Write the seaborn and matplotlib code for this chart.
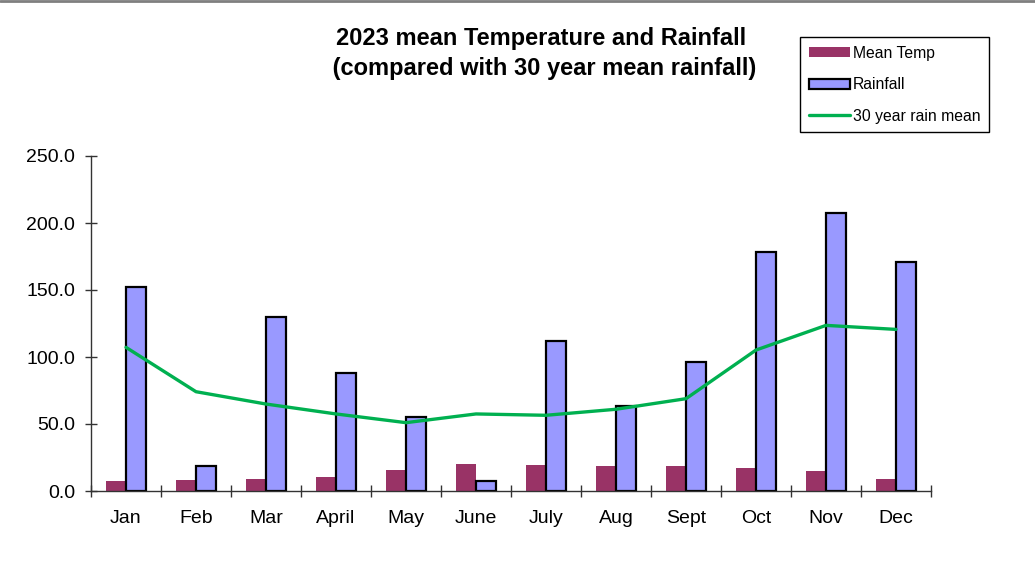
import numpy as np
import pandas as pd
import seaborn as sns
import matplotlib.pyplot as plt
from matplotlib.patches import Patch
from matplotlib.lines import Line2D

months = ["Jan", "Feb", "Mar", "April", "May", "June", "July", "Aug", "Sept", "Oct", "Nov", "Dec"]
mean_temp = [7.2, 8.0, 8.7, 10.7, 15.4, 20.1, 19.4, 18.7, 18.9, 16.9, 14.7, 9.0]
rainfall = [152.2, 18.7, 129.9, 88.0, 55.2, 7.5, 112.0, 63.4, 96.3, 178.4, 207.5, 170.9]
rain_30yr = [107.2, 74.1, 64.9, 57.5, 51.0, 57.5, 56.5, 61.0, 68.9, 105.2, 123.6, 120.6]

sns.set_theme(style="white")
plt.rcParams["font.family"] = ["Liberation Sans", "DejaVu Sans"]
plt.rcParams["text.color"] = "black"
plt.rcParams["xtick.color"] = "#333333"
plt.rcParams["ytick.color"] = "#333333"
plt.rcParams["xtick.labelcolor"] = "black"
plt.rcParams["ytick.labelcolor"] = "black"

temp_col = "#993366"
rain_col = "#9999FF"
line_col = "#00B050"

df = pd.DataFrame({
    "month": months * 2,
    "value": mean_temp + rainfall,
    "series": ["Mean Temp"] * 12 + ["Rainfall"] * 12,
})

fig = plt.figure(figsize=(10.35, 5.63), dpi=100)
ax = fig.add_axes([91 / 1035, 1 - 491 / 563, 840 / 1035, 335 / 563])

sns.barplot(data=df, x="month", y="value", hue="series", order=months,
            palette=[temp_col, rain_col], width=40 / 70, gap=0,
            saturation=1, legend=False, ax=ax)
# rainfall bars have black outline
for bar in ax.containers[1]:
    bar.set_edgecolor("black")
    bar.set_linewidth(1.6)
for bar in ax.containers[0]:
    bar.set_linewidth(0)

sns.lineplot(x=np.arange(len(months)), y=rain_30yr, color=line_col,
             linewidth=2.4, ax=ax)

ax.set_xlim(-0.5, len(months) - 0.5)
ax.set_ylim(0, 250)
ax.set_xlabel("")
ax.set_ylabel("")

# ticks at group boundaries, labels at centres
ax.set_xticks(np.arange(-0.5, len(months)), labels=[""] * (len(months) + 1))
ax.set_xticks(np.arange(len(months)), labels=months, minor=True)
ax.tick_params(axis="x", which="major", direction="inout", length=8.6,
               width=1, bottom=True)
ax.tick_params(axis="x", which="minor", length=0, pad=14, labelsize=14,
               bottom=True)
ax.set_yticks(np.arange(0, 251, 50))
ax.set_yticklabels([f"{v:.1f}" for v in np.arange(0, 251, 50)])
ax.tick_params(axis="y", direction="inout", length=8.6, width=1,
               pad=7, labelsize=14, left=True)

for s in ["top", "right"]:
    ax.spines[s].set_visible(False)
for s in ["left", "bottom"]:
    ax.spines[s].set_color("#333333")
    ax.spines[s].set_linewidth(1)

fig.text(541 / 1035, 1 - 27 / 563,
         "2023 mean Temperature and Rainfall\n (compared with 30 year mean rainfall)",
         ha="center", va="top", fontsize=17, fontweight="bold", linespacing=1.4)

handles = [
    Patch(facecolor=temp_col, edgecolor="none"),
    Patch(facecolor=rain_col, edgecolor="black", linewidth=1.6),
    Line2D([0], [0], color=line_col, linewidth=2.4),
]
leg = fig.legend(handles, ["Mean Temp", "Rainfall", "30 year rain mean"],
                 loc="upper right", bbox_to_anchor=(989 / 1035, 1 - 37 / 563),
                 fontsize=11.3, frameon=True, fancybox=False, framealpha=1,
                 edgecolor="black", borderaxespad=0, borderpad=0.55,
                 labelspacing=1.05, handlelength=2.6, handleheight=0.6,
                 handletextpad=0.2)
leg.get_frame().set_linewidth(1)

fig.add_artist(Line2D([0, 1], [0.998, 0.998], color="#7f7f7f", linewidth=2,
                      transform=fig.transFigure))

fig.savefig("out.png", dpi=100)
